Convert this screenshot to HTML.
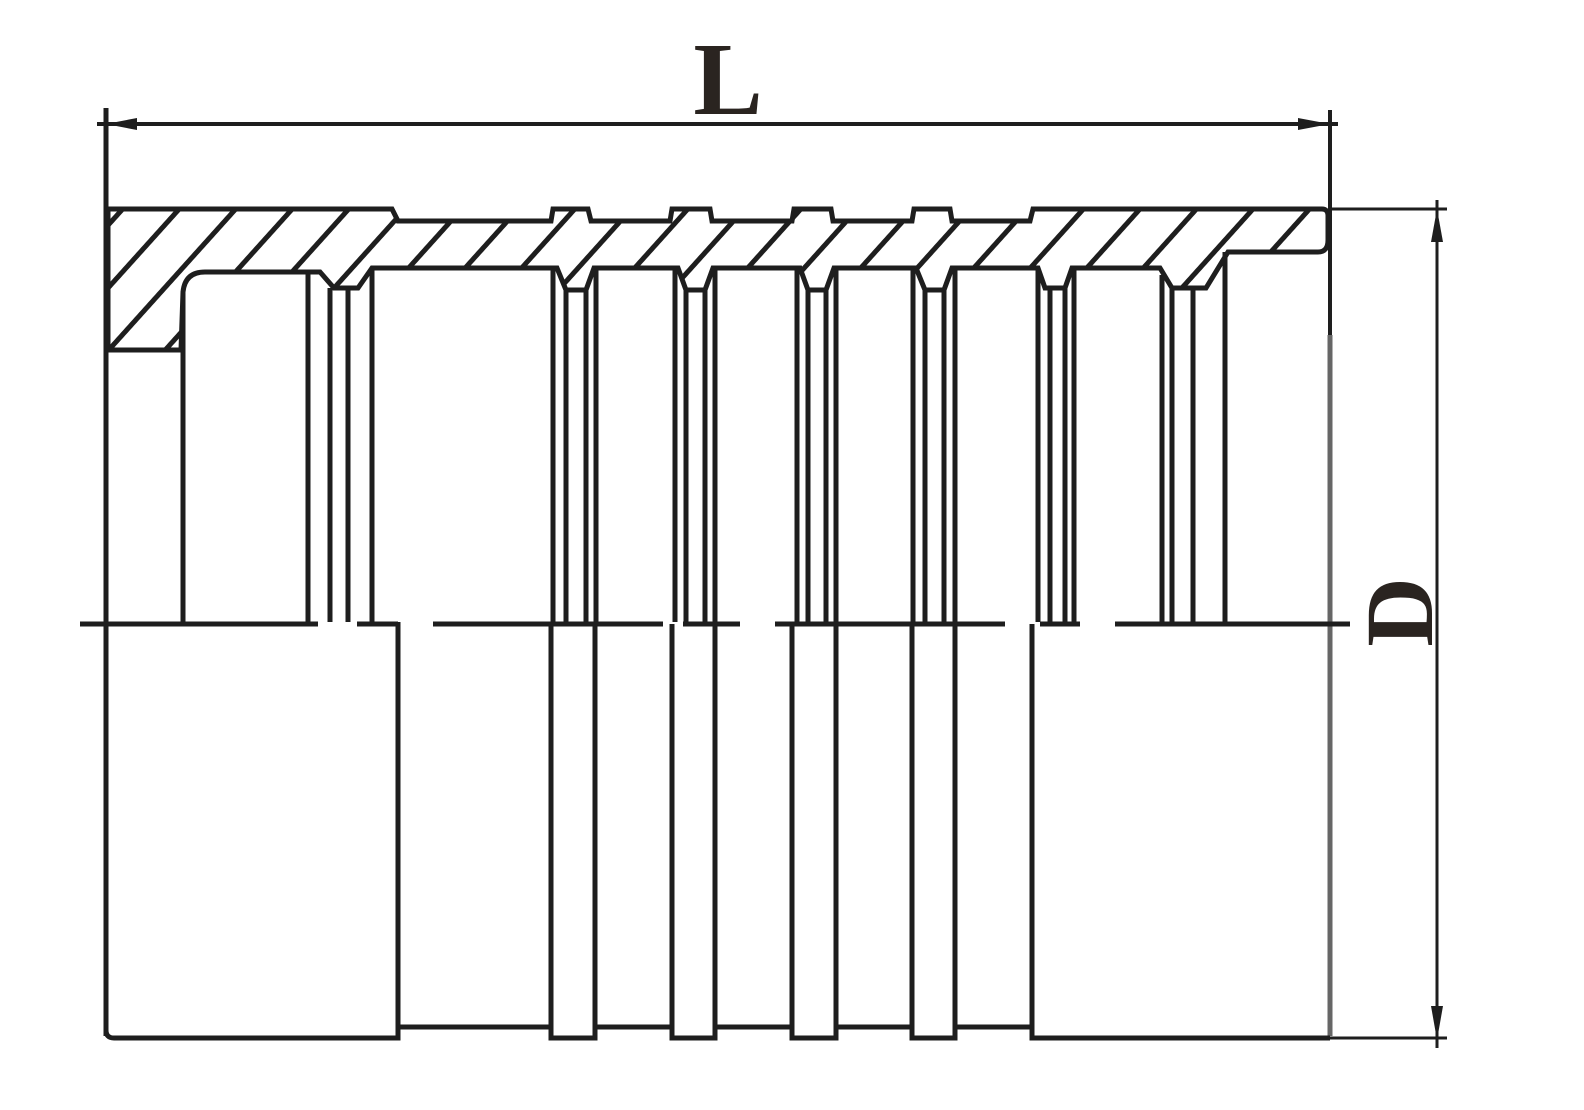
<!DOCTYPE html>
<html><head><meta charset="utf-8"><style>html,body{margin:0;padding:0;background:#fff}svg{display:block}</style></head>
<body>
<svg width="1584" height="1110" viewBox="0 0 1584 1110" xmlns="http://www.w3.org/2000/svg">
<defs>
<pattern id="h" patternUnits="userSpaceOnUse" width="42" height="42" patternTransform="rotate(42)">
<line x1="21" y1="0" x2="21" y2="42" stroke="#1e1e1e" stroke-width="5"/>
</pattern>
<clipPath id="c"><path id="hp" d="M108,209 L392,209 L398,221 L551,221 L553,209 L588,209 L591,221 L670,221 L672,209 L710,209 L712,221 L792,221 L794,209 L831,209 L833,221 L912,221 L914,209 L950,209 L952,221 L1030,221 L1033,209 L1322,209 Q1328,209 1328,216 L1328,240 Q1328,252 1318,252 L1228,252 L1206,288 L1172,288 L1160,268 L1072,268 L1065,288 L1045,288 L1038,268 L952,268 L944,290 L925,290 L916,268 L834,268 L826,290 L808,290 L800,268 L713,268 L705,290 L686,290 L678,268 L594,268 L586,290 L566,290 L557,268 L372,268 L358,288 L334,288 L320,272 L205,272 Q185,272 183,292 L181,350 L108,350 Z"/></clipPath>
</defs>
<g fill="none" stroke="#1e1e1e" stroke-width="5">
<rect x="100" y="200" width="1240" height="160" fill="url(#h)" stroke="none" clip-path="url(#c)"/>
<use href="#hp"/>
<line x1="97" y1="124" x2="1338" y2="124" stroke-width="4"/>
<line x1="106" y1="108" x2="106" y2="1036"/>
<line x1="1330" y1="110" x2="1330" y2="335" stroke-width="4"/>
<line x1="1330" y1="335" x2="1330" y2="1036" stroke="#666" stroke-width="5"/>
<line x1="1328" y1="209" x2="1447" y2="209" stroke-width="3"/>
<line x1="1330" y1="1038" x2="1447" y2="1038" stroke-width="3"/>
<line x1="1437" y1="200" x2="1437" y2="1048" stroke-width="3"/>
<path d="M183,292 L183,622 M308,272 L308,622 M330,288 L330,622 M348,288 L348,622 M372,268 L372,622"/>
<path d="M553,268 L553,622 M566,290 L566,622 M586,290 L586,622 M596,268 L596,622"/>
<path d="M675,268 L675,622 M686,290 L686,622 M705,290 L705,622 M715,268 L715,622"/>
<path d="M797,268 L797,622 M808,290 L808,622 M826,290 L826,622 M836,268 L836,622"/>
<path d="M913,268 L913,622 M925,290 L925,622 M944,290 L944,622 M955,268 L955,622"/>
<path d="M1038,268 L1038,622 M1050,288 L1050,622 M1065,288 L1065,622 M1074,268 L1074,622"/>
<path d="M1162,275 L1162,622 M1172,288 L1172,622 M1193,288 L1193,622 M1225,252 L1225,622"/>
<path d="M80,624 H318 M357,624 H398 M433,624 H663 M683,624 H740 M775,624 H1005 M1040,624 H1080 M1115,624 H1350"/>
<path d="M106,624 L106,1030 Q106,1038 114,1038 L398,1038 L398,622"/>
<path d="M398,1027 H551 M551,624 V1038 H595 V624 M595,1027 H672 M672,624 V1038 H715 V624 M715,1027 H792 M792,624 V1038 H836 V624 M836,1027 H912 M912,624 V1038 H955 V624 M955,1027 H1032 M1032,624 V1038 H1330"/>
</g>
<g fill="#1e1e1e">
<polygon points="106,124 137,118 137,130"/>
<polygon points="1330,124 1298,118 1298,130"/>
<polygon points="1437,209 1431,242 1443,242"/>
<polygon points="1437,1040 1431,1006 1443,1006"/>
</g>
<text x="728" y="114" font-family="Liberation Serif, serif" font-size="104" font-weight="bold" text-anchor="middle" fill="#2a2420">L</text>
<text transform="translate(1432,612) rotate(-90)" font-family="Liberation Serif, serif" font-size="96" font-weight="bold" text-anchor="middle" fill="#2a2420">D</text>
</svg>
</body></html>
